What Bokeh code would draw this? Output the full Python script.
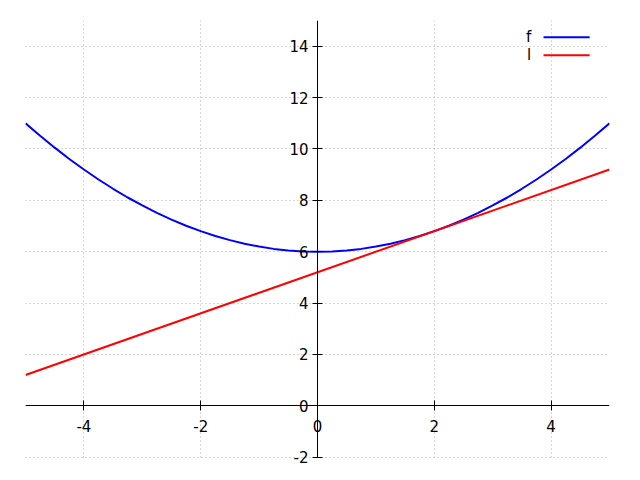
from bokeh.plotting import figure
from bokeh.models import Range1d, FixedTicker, Label, Arrow, PrintfTickFormatter
from bokeh.embed import file_html
from bokeh.resources import INLINE

# data
x_f = [-5.0, -4.75, -4.5, -4.25, -4.0, -3.75, -3.5, -3.25, -3.0, -2.75, -2.5,
       -2.25, -2.0, -1.75, -1.5, -1.25, -1.0, -0.75, -0.5, -0.25, 0.0,
       0.25, 0.5, 0.75, 1.0, 1.25, 1.5, 1.75, 2.0, 2.25, 2.5,
       2.75, 3.0, 3.25, 3.5, 3.75, 4.0, 4.25, 4.5, 4.75, 5.0]
y_f = [11.0, 10.51, 10.05, 9.61, 9.2, 8.81, 8.45, 8.11, 7.8, 7.51, 7.25,
       7.01, 6.8, 6.61, 6.45, 6.31, 6.2, 6.11, 6.05, 6.01, 6.0,
       6.01, 6.05, 6.11, 6.2, 6.31, 6.45, 6.61, 6.8, 7.01, 7.25,
       7.51, 7.8, 8.11, 8.45, 8.81, 9.2, 9.61, 10.05, 10.51, 11.0]
x_l = [-5.0, 5.0]
y_l = [1.2, 9.2]
series_names = ["f", "l"]
x_ticks = [-4, -2, 0, 2, 4]
y_ticks = [-2, 0, 2, 4, 6, 8, 10, 12, 14]

FONT = "DejaVu Sans"
FS = "15px"

p = figure(width=632, height=472, output_backend="svg", toolbar_location=None,
           x_range=Range1d(-5, 5), y_range=Range1d(-2.4, 15),
           min_border_left=25, min_border_right=23, min_border_top=20, min_border_bottom=5)
p.outline_line_color = None
p.background_fill_color = "white"
p.border_fill_color = "white"

for ax, ticks in ((p.xaxis, x_ticks), (p.yaxis, y_ticks)):
    ax.fixed_location = 0
    ax.ticker = FixedTicker(ticks=ticks)
    ax.formatter = PrintfTickFormatter(format="%d")
    ax.minor_tick_line_color = None
    ax.major_tick_in = 5
    ax.major_tick_out = 5
    ax.axis_line_color = "black"
    ax.major_tick_line_color = "black"
    ax.major_label_text_font = FONT
    ax.major_label_text_font_size = FS
    ax.major_label_text_color = "black"
p.xaxis.major_label_standoff = 9
p.yaxis.major_label_standoff = 4
p.yaxis.bounds = (-2, 15)

p.xgrid.ticker = FixedTicker(ticks=x_ticks)
p.ygrid.ticker = FixedTicker(ticks=y_ticks)
p.xgrid.cross_bounds = (-2, 15)
for g in (p.xgrid, p.ygrid):
    g.grid_line_color = "#b0b0b0"
    g.grid_line_dash = "1 3"
    g.grid_line_width = 1

p.line(x_f, y_f, line_color="#0000ff", line_width=2)
p.line(x_l, y_l, line_color="#ff0000", line_width=2)

# legend (label on the left, line sample on the right)
leg_y = [14.35, 13.65]
leg_colors = ["#0000ff", "#ff0000"]
for name, yy, c in zip(series_names, leg_y, leg_colors):
    p.add_layout(Label(x=3.66, y=yy, text=name, text_align="right", text_baseline="middle",
                       text_font=FONT, text_font_size=FS, text_color="black"))
    p.add_layout(Arrow(end=None, x_start=3.87, y_start=yy, x_end=4.66, y_end=yy,
                       line_color=c, line_width=2))

open("out.html", "w").write(file_html(p, INLINE))
